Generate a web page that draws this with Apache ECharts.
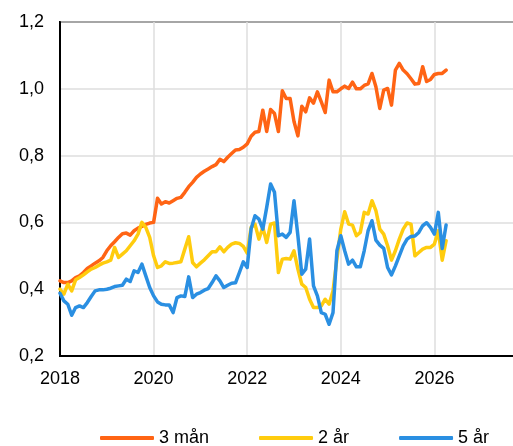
<!DOCTYPE html>
<html>
<head>
<meta charset="utf-8">
<script src="https://cdn.jsdelivr.net/npm/echarts@6/dist/echarts.min.js"></script>
<style>
  html, body { margin: 0; padding: 0; background: #fff; }
  #chart { width: 513px; height: 446px; }
</style>
</head>
<body>
<div id="chart"></div>
<script>
// monthly observations, first point = Jan 2018
const startYear = 2018
const seriesNames = ['3 mån', '2 år', '5 år']
const xTicks = [2018, 2020, 2022, 2024, 2026]

const m3 = [
  0.425, 0.42, 0.42, 0.425, 0.435, 0.44, 0.45, 0.462, 0.47, 0.478, 0.485, 0.495,
  0.515, 0.53, 0.542, 0.555, 0.566, 0.568, 0.562, 0.575, 0.583, 0.588, 0.594, 0.598,
  0.60, 0.672, 0.655, 0.662, 0.658, 0.665, 0.672, 0.675, 0.69, 0.707, 0.72, 0.735,
  0.745, 0.753, 0.76, 0.767, 0.773, 0.789, 0.782, 0.795, 0.806, 0.817, 0.818, 0.825,
  0.835, 0.858, 0.870, 0.872, 0.936, 0.872, 0.938, 0.926, 0.872, 0.994, 0.971, 0.971,
  0.902, 0.859, 0.948, 0.931, 0.973, 0.957, 0.991, 0.961, 0.929, 1.026, 0.991, 0.991,
  1.0, 1.008, 1.001, 1.02, 1.0, 1.0, 1.01, 1.015, 1.046, 1.006, 0.941, 0.996,
  1.001, 0.951, 1.056, 1.076, 1.056, 1.045, 1.03, 1.014, 1.016, 1.066, 1.022, 1.028,
  1.043, 1.046, 1.046, 1.056
]
const y2 = [
  0.40, 0.385, 0.415, 0.395, 0.428, 0.435, 0.443, 0.452, 0.46, 0.465, 0.472, 0.478,
  0.482, 0.487, 0.525, 0.495, 0.505, 0.515, 0.53, 0.545, 0.565, 0.60, 0.585, 0.555,
  0.50, 0.465, 0.47, 0.482, 0.477, 0.478, 0.48, 0.482, 0.52, 0.557, 0.48, 0.467,
  0.478, 0.488, 0.50, 0.512, 0.512, 0.527, 0.512, 0.525, 0.535, 0.539, 0.537, 0.528,
  0.508, 0.585, 0.595, 0.55, 0.585, 0.54, 0.595, 0.598, 0.45, 0.49, 0.492, 0.49,
  0.515, 0.46, 0.415, 0.405, 0.37, 0.345, 0.345, 0.35, 0.37, 0.355, 0.395, 0.49,
  0.58, 0.632, 0.595, 0.592, 0.56, 0.57, 0.63, 0.625, 0.665, 0.635, 0.58, 0.565,
  0.53, 0.487, 0.515, 0.55, 0.58, 0.598, 0.595, 0.50, 0.51, 0.52, 0.525, 0.525,
  0.535, 0.575, 0.487, 0.545
]
const y5 = [
  0.388, 0.365, 0.355, 0.322, 0.345, 0.35, 0.345, 0.36, 0.378, 0.395, 0.398, 0.398,
  0.40, 0.403, 0.408, 0.41, 0.412, 0.43, 0.423, 0.455, 0.45, 0.475, 0.44, 0.405,
  0.38, 0.362, 0.355, 0.353, 0.353, 0.33, 0.375, 0.38, 0.378, 0.437, 0.375, 0.385,
  0.39, 0.397, 0.402, 0.42, 0.44, 0.425, 0.405, 0.412, 0.418, 0.419, 0.45, 0.482,
  0.465, 0.58, 0.62, 0.61, 0.58, 0.645, 0.715, 0.69, 0.56, 0.565, 0.555, 0.57,
  0.665, 0.56, 0.445, 0.46, 0.55, 0.41, 0.38, 0.33, 0.325, 0.295, 0.33, 0.515,
  0.56, 0.515, 0.475, 0.487, 0.467, 0.467, 0.515, 0.575, 0.605, 0.547, 0.532, 0.522,
  0.465, 0.443, 0.47, 0.5, 0.53, 0.55, 0.558, 0.559, 0.57, 0.59, 0.599, 0.585,
  0.565, 0.63, 0.522, 0.592
]

const colors = ['#FF6414', '#FFCC0E', '#2A8FE2']
const font = '"Liberation Sans", Arial, sans-serif'

function toPairs(arr) {
  return arr.map((v, i) => [startYear + i / 12, v])
}

let chart = echarts.init(document.getElementById('chart'))
let option = {
  animation: false,
  color: colors,
  textStyle: { fontFamily: font },
  grid: {
    left: 60,
    top: 22,
    width: 468,
    bottom: 90,
    outerBoundsMode: 'none',
    show: true,
    borderColor: '#000',
    borderWidth: 2
  },
  legend: {
    data: seriesNames,
    left: 100,
    top: 429,
    padding: 0,
    icon: 'roundRect',
    itemWidth: 54,
    itemHeight: 4,
    itemGap: 50,
    textStyle: { fontSize: 18, color: '#000', fontFamily: font }
  },
  xAxis: {
    type: 'value',
    min: 2018,
    max: 2028,
    interval: 2,
    axisLine: { show: true, lineStyle: { color: '#000', width: 2 } },
    axisTick: { show: false },
    splitLine: { show: true, lineStyle: { color: '#dedede', width: 1.5 } },
    axisLabel: {
      fontSize: 18,
      color: '#000',
      margin: 14,
      formatter(v) {
        return xTicks.indexOf(v) >= 0 ? String(v) : ''
      }
    }
  },
  yAxis: {
    type: 'value',
    min: 0.2,
    max: 1.2,
    interval: 0.2,
    axisLine: { show: true, lineStyle: { color: '#000', width: 2 } },
    axisTick: { show: false },
    splitLine: { show: true, lineStyle: { color: '#dedede', width: 1.5 } },
    axisLabel: {
      fontSize: 18,
      color: '#000',
      margin: 16,
      formatter(v) {
        return v.toFixed(1).replace('.', ',')
      }
    }
  },
  series: [
    { name: seriesNames[0], type: 'line', data: toPairs(m3) },
    { name: seriesNames[1], type: 'line', data: toPairs(y2) },
    { name: seriesNames[2], type: 'line', data: toPairs(y5) }
  ].map(s => Object.assign(s, {
    showSymbol: false,
    symbol: 'none',
    lineStyle: { width: 3.5, cap: 'round', join: 'round' }
  }))
}
chart.setOption(option)
</script>
</body>
</html>
